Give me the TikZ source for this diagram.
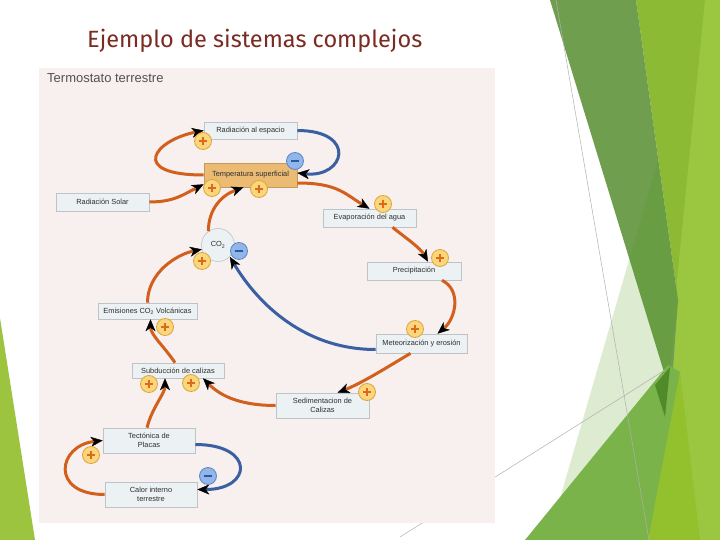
\documentclass[tikz,border=0pt]{standalone}
\usepackage{fontspec}
\setmainfont{Liberation Sans}
\setsansfont{Liberation Sans}
\newfontfamily\titlefont{Fira Sans}
\usetikzlibrary{arrows.meta,calc}
\definecolor{panelbg}{HTML}{F7F0EF}
\definecolor{boxfill}{HTML}{ECF1F4}
\definecolor{boxline}{HTML}{BCC4C9}
\definecolor{tempfill}{HTML}{EBBB74}
\definecolor{templine}{HTML}{C49A5A}
\definecolor{orangec}{HTML}{D2601C}
\definecolor{bluec}{HTML}{3A5FA3}
\definecolor{plusfill}{HTML}{FAD67C}
\definecolor{plusline}{HTML}{E0A43A}
\definecolor{plustext}{HTML}{E0681A}
\definecolor{minusfill}{HTML}{92B5EA}
\definecolor{minusline}{HTML}{5C86C8}
\definecolor{minustext}{HTML}{2C58A0}
\definecolor{titlecol}{HTML}{7A2B22}
\definecolor{txtcol}{HTML}{2E2E2E}
\definecolor{greenA}{HTML}{6F9E4F}
\definecolor{greenB}{HTML}{8CBA34}
\definecolor{greenC}{HTML}{9BC63F}
\definecolor{greenD}{HTML}{559B14}
\definecolor{greenE}{HTML}{7AB34A}
\definecolor{greenF}{HTML}{4F8B2A}
\definecolor{greenG}{HTML}{93C12E}
\definecolor{greenL}{HTML}{9DC43E}
\definecolor{thinline}{HTML}{B0B0B0}
\begin{document}
\begin{tikzpicture}[x=1pt,y=-1pt,
  box/.style={draw=boxline, fill=boxfill, line width=0.6pt, rectangle, inner sep=0pt,
    text=txtcol, font=\fontsize{7.4}{8.6}\selectfont, align=center},
  tempbox/.style={box, draw=templine, fill=tempfill},
  oc/.style={draw=orangec, line width=3pt, -{Stealth[length=12pt,width=10pt,inset=3.5pt,color=black,fill=black,line width=0.4pt]}},
  bc/.style={draw=bluec, line width=3pt, -{Stealth[length=12pt,width=10pt,inset=3.5pt,color=black,fill=black,line width=0.4pt]}},
  sgn/.style={circle, minimum size=17pt, inner sep=0pt, line width=0.8pt},
  pl/.style={sgn, draw=plusline, fill=plusfill,
    path picture={\draw[plustext,line width=1.1pt]
      ([xshift=-4pt]path picture bounding box.center) -- ([xshift=4pt]path picture bounding box.center)
      ([yshift=-4pt]path picture bounding box.center) -- ([yshift=4pt]path picture bounding box.center);}},
  mi/.style={sgn, draw=minusline, fill=minusfill,
    path picture={\draw[minustext,line width=1.3pt]
      ([xshift=-4pt]path picture bounding box.center) -- ([xshift=4pt]path picture bounding box.center);}}
]
\useasboundingbox (0,0) rectangle (720,540);
\fill[white] (0,0) rectangle (720,540);

% decoration right
\fill[greenB] (636,0) -- (720,0) -- (720,540) -- (640,540) -- (678,300) -- (657,150) -- cycle;
\fill[greenC] (705,0) -- (720,0) -- (720,540) -- (651,540) -- cycle;
\fill[greenA] (550,0) -- (636,0) -- (657,150) -- (678,300) -- (671,395) -- cycle;
\fill[greenD, fill opacity=0.2] (658,160) -- (548,540) -- (650,540) -- (678,300) -- cycle;
\fill[greenG] (648,540) -- (680,372) -- (700,540) -- cycle;
\fill[greenE] (525,540) -- (668,365) -- (680,372) -- (648,540) -- cycle;
\fill[greenF] (655,385) -- (670,367) -- (665,417) -- cycle;
\draw[thinline, line width=0.5pt] (556,0) -- (649,540);
\draw[thinline, line width=0.5pt] (400,537) -- (665,370);
% decoration left
\fill[greenL] (0,318) -- (0,540) -- (35,540) -- cycle;

% title
\node[anchor=base west, inner sep=0pt, text=titlecol, font=\titlefont] (title) at (87,48)
  {\resizebox{335pt}{!}{Ejemplo de sistemas complejos}};

% panel
\fill[panelbg] (39,68) rectangle (495,523);
\node[anchor=base west, inner sep=0pt, text=black!68, font=\fontsize{13}{15}\selectfont] (head) at (47,83) {Termostato terrestre};

% nodes
\node[box, minimum width=93pt, minimum height=17pt] (rad) at (250.5,130.5) {Radiación al espacio};
\node[tempbox, minimum width=93pt, minimum height=24pt] (temp) at (250.5,175) {Temperatura superficial};
\node[box, minimum width=93pt, minimum height=18pt] (sol) at (102.5,202) {Radiación Solar};
\node[box, minimum width=93pt, minimum height=18pt] (evap) at (369.5,218) {Evaporación del agua};
\node[box, circle, minimum size=33pt] (co2) at (218,245) {CO\textsubscript{2}};
\node[box, minimum width=94pt, minimum height=18pt] (prec) at (414,271) {Precipitación};
\node[box, minimum width=91pt, minimum height=19pt] (met) at (421.5,343.5) {Meteorización y erosión};
\node[box, minimum width=99pt, minimum height=16pt] (emi) at (147.5,311) {Emisiones CO\textsubscript{2} Volcánicas};
\node[box, minimum width=92pt, minimum height=15pt] (sub) at (178,370.5) {Subducción de calizas};
\node[box, minimum width=93pt, minimum height=25pt] (sed) at (322.5,405.5) {Sedimentacion de\\Calizas};
\node[box, minimum width=92pt, minimum height=25pt] (tec) at (149,440.5) {Tectónica de\\Placas};
\node[box, minimum width=92pt, minimum height=25pt] (cal) at (151,494.5) {Calor interno\\terrestre};

% connectors
\draw[oc] (temp.west) .. controls +(-75,0) and +(-50,10) .. (rad.west);
\draw[bc] (rad.east) .. controls +(60,0) and +(48,5) .. ([yshift=2pt]temp.east);
\draw[oc] (sol.east) .. controls +(25,0) and +(-20,10) .. ([yshift=3pt]temp.south west);
\draw[oc] (co2.125) .. controls +(0,-22) and +(-22,8) .. ([xshift=-7pt]temp.south);
\draw[oc] ([yshift=-8pt]temp.east) .. controls +(40,0) and +(-25,-15) .. (evap.north);
\draw[oc] ([xshift=23pt]evap.south) .. controls +(15,12) and +(-8,-14) .. ([xshift=14pt]prec.north);
\draw[oc] ([xshift=28pt]prec.south) .. controls +(20,10) and +(18,-15) .. ([xshift=16pt]met.north);
\draw[bc] ([yshift=-6pt]met.west) .. controls +(-75,0) and +(25,42) .. (co2.-45);
\draw[oc] ([xshift=-11pt]met.south) .. controls +(-25,15) and +(25,-10) .. ([xshift=15pt]sed.north);
\draw[oc] (sed.west) .. controls +(-40,0) and +(15,15) .. ([xshift=25pt]sub.south);
\draw[oc] ([xshift=-2pt]tec.north) .. controls +(5,-20) and +(0,15) .. ([xshift=-13pt]sub.south);
\draw[oc] ([xshift=-3pt]sub.north) .. controls +(-10,-15) and +(0,15) .. ([xshift=3pt]emi.south);
\draw[oc] (emi.north) .. controls +(0,-30) and +(-25,5) .. (co2.195);
\draw[oc] (cal.west) .. controls +(-55,0) and +(-45,5) .. (tec.west);
\draw[bc] ([yshift=-4pt]tec.east) .. controls +(60,0) and +(55,0) .. ([yshift=5pt]cal.east);

% signs
\node[pl] (p1) at (203,141) {};
\node[pl] (p2) at (212,188) {};
\node[pl] (p3) at (259,189) {};
\node[pl] (p4) at (383,204) {};
\node[pl] (p5) at (202,261) {};
\node[pl] (p6) at (440,258) {};
\node[pl] (p7) at (415,329) {};
\node[pl] (p8) at (165,327) {};
\node[pl] (p9) at (149,384) {};
\node[pl] (p10) at (191,383) {};
\node[pl] (p11) at (367,392) {};
\node[pl] (p12) at (91,455) {};
\node[mi] (m1) at (295,161) {};
\node[mi] (m2) at (239,251) {};
\node[mi] (m3) at (208,476) {};
\end{tikzpicture}
\end{document}
